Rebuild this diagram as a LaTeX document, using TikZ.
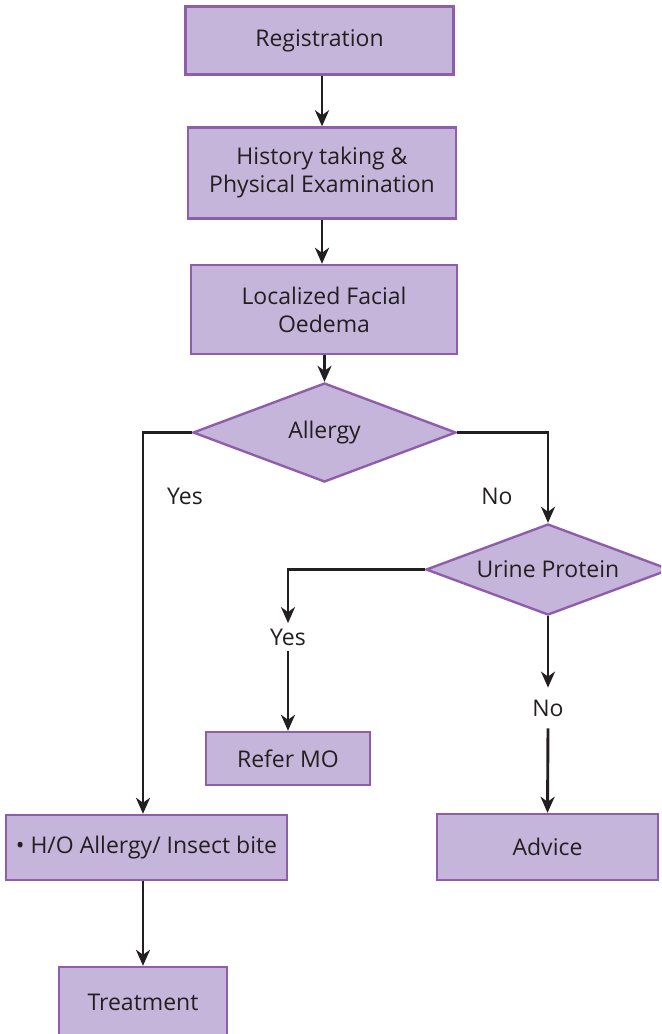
\documentclass[tikz,border=0pt]{standalone}
\usepackage{fontspec}
\setmainfont{Open Sans}
\usetikzlibrary{shapes.geometric,arrows.meta}
\definecolor{boxfill}{RGB}{198,181,218}
\definecolor{boxline}{RGB}{142,94,172}
\definecolor{ink}{RGB}{35,31,32}
\tikzset{
  box/.style={draw=boxline,fill=boxfill,line width=1.2pt,inner sep=0pt,align=center,text=ink},
  dia/.style={shape=diamond,draw=boxline,fill=boxfill,line width=1.2pt,inner sep=0pt,text=ink,shape aspect=2.7},
  lbl/.style={inner sep=0pt,text=ink},
  arr/.style={draw=ink,line width=1.45pt,-{Stealth[length=8pt,width=7pt,inset=2.5pt]}}
}
\begin{document}
\begin{tikzpicture}[x=0.5pt,y=-0.5pt,font=\fontsize{11.5}{14}\selectfont]
\useasboundingbox (0,0) rectangle (661,1034);
\clip (0,0) rectangle (661,1034);
\fill[white] (0,0) rectangle (661,1034);
\node[box,minimum width=134pt,minimum height=34pt] (reg) at (319.5,40.5) {Registration};
\node[box,minimum width=134pt,minimum height=45.5pt] (hist) at (322,173) {History taking \&\\Physical Examination};
\node[box,minimum width=133pt,minimum height=44.5pt] (loc) at (324,309.5) {Localized Facial\\Oedema};
\node[dia,minimum width=131.5pt,minimum height=49.5pt] (all) at (324.5,432.5) {Allergy};
\node[dia,minimum width=122pt,minimum height=45.5pt] (uri) at (548,569.5) {Urine Protein};
\node[box,minimum width=82pt,minimum height=26.5pt] (ref) at (288,758.5) {Refer MO};
\node[box,minimum width=140.5pt,minimum height=32.5pt] (ho) at (146.5,847.5) {\textbullet{} H/O Allergy/ Insect bite};
\node[box,minimum width=110.5pt,minimum height=33pt] (adv) at (547.5,847) {Advice};
\node[box,minimum width=84pt,minimum height=35pt] (tre) at (143,1002) {Treatment};
\node[lbl] (yes1) at (185,496) {Yes};
\node[lbl] (no1) at (497,496) {No};
\node[lbl,minimum height=13.5pt] (yes2) at (288,637) {Yes};
\node[lbl,minimum height=20pt] (no2) at (548,708) {No};
\coordinate (hotop) at ([xshift=-1.75pt]ho.north);
\draw[arr] (hist.north |- reg.south) -- (hist.north);
\draw[arr] (hist.south) -- (hist.south |- loc.north);
\draw[arr] (all.north |- loc.south) -- (all.north);
\draw[arr] (all.west) -| (hotop);
\draw[arr] (all.east) -| (uri.north);
\draw[arr] (uri.west) -| (yes2.north);
\draw[arr] (yes2.south) -- (ref.north);
\draw[arr] (uri.south) -- (no2.north);
\draw[arr] (no2.south) -- (adv.north);
\draw[arr] (tre.north |- ho.south) -- (tre.north);
\end{tikzpicture}
\end{document}
